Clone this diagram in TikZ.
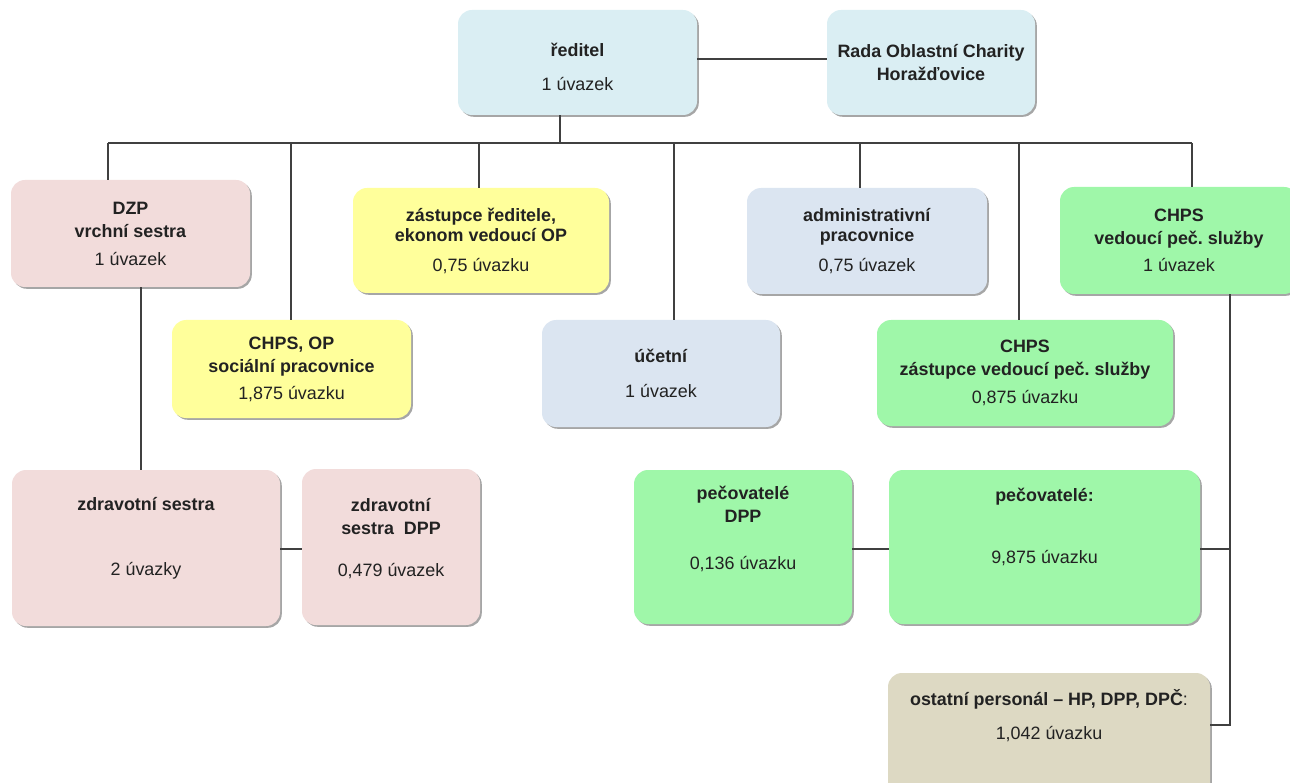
\documentclass[tikz,border=0pt]{standalone}
\usepackage{fontspec}
\setmainfont{Liberation Sans}
\usepackage{xcolor}
\usepackage{tikz}
\usetikzlibrary{shadows}
\definecolor{ink}{HTML}{222222}
\definecolor{wire}{HTML}{404040}
\definecolor{head}{HTML}{DAEEF3}
\definecolor{rose}{HTML}{F2DCDB}
\definecolor{lemon}{HTML}{FFFF9B}
\definecolor{steel}{HTML}{DBE5F1}
\definecolor{mint}{HTML}{9FF7A9}
\definecolor{sand}{HTML}{DDD9C3}
\tikzset{
  box/.style={rounded corners=14pt, align=center, text=ink, inner sep=0pt,
    font=\fontsize{17.9}{23}\selectfont\frenchspacing,
    drop shadow={shadow xshift=1.8pt, shadow yshift=-1.8pt, fill=black, opacity=0.35}},
  dims/.style 2 args={minimum width=#1pt, minimum height=#2pt},
  conn/.style={draw=wire, line width=1.3pt}
}

\begin{document}
\begin{tikzpicture}[x=1pt, y=-1pt]
  \useasboundingbox (0,0) rectangle (1290,783);

  % top
  \node[box, fill=head, dims={239}{105}] (red) at (577.5,62.5) {\mbox{}\\[0pt]\textbf{ředitel}\\[11pt]1 úvazek};
  \node[box, fill=head, dims={208}{105}] (rada) at (931,62.5) {\textbf{Rada Oblastní Charity}\\\textbf{Horažďovice}};

  % second row
  \node[box, fill=rose, dims={239}{107}] (dzp) at (130.5,233.5) {\textbf{DZP}\\\textbf{vrchní sestra}\\[5pt]1 úvazek};
  \node[box, fill=lemon, dims={256}{105}] (zast) at (481,240.5) {\textbf{zástupce ředitele,}\\[-3pt]\textbf{ekonom vedoucí OP}\\[7pt]0,75 úvazku};
  \node[box, fill=steel, dims={240}{106}] (admin) at (867,241) {\textbf{administrativní}\\[-3pt]\textbf{pracovnice}\\[7pt]0,75 úvazek};
  \node[box, fill=mint, dims={238}{107}] (ved) at (1179,240.5) {\textbf{CHPS}\\\textbf{vedoucí peč. služby}\\[4pt]1 úvazek};

  % third row
  \node[box, fill=lemon, dims={239}{98}] (socp) at (291.5,369) {\textbf{CHPS, OP}\\\textbf{sociální pracovnice}\\[4pt]1,875 úvazku};
  \node[box, fill=steel, dims={238}{107}] (ucet) at (661,373.5) {\textbf{účetní}\\[12pt]1 úvazek};
  \node[box, fill=mint, dims={296}{106}] (zved) at (1025,373) {\textbf{CHPS}\\\textbf{zástupce vedoucí peč. služby}\\[5pt]0,875 úvazku};

  % bottom rows
  \node[box, fill=rose, dims={268}{156}] (zdr) at (146,548) {\textbf{zdravotní sestra}\\[42pt]2 úvazky\\[0pt]\mbox{}};
  \node[box, fill=rose, dims={178}{156}] (zdrdpp) at (391,547) {\textbf{zdravotní}\\\textbf{sestra\ \ DPP}\\[19pt]0,479 úvazek\\[-3pt]\mbox{}};
  \node[box, fill=mint, dims={218}{154}] (pdpp) at (743,547) {\textbf{pečovatelé}\\\textbf{DPP}\\[24pt]0,136 úvazku\\[15pt]\mbox{}};
  \node[box, fill=mint, dims={311}{154}] (pec) at (1044.5,547) {\textbf{pečovatelé:}\\[39pt]9,875 úvazku\\[19pt]\mbox{}};
  \node[box, fill=sand, dims={322}{140}] (ost) at (1049,743) {\textbf{ostatní personál – HP, DPP, DPČ}:\\[11pt]1,042 úvazku\\[35pt]\mbox{}};

  % connectors
  \coordinate (bus) at (560,143);
  \coordinate (busl) at (108,143);
  \coordinate (busr) at (1192,143);
  \draw[conn] (red.east |- 0,59) -- (rada.west |- 0,59);
  \draw[conn] (red.south -| bus) -- (bus);
  \draw[conn] (busl) -- (busr);
  \foreach \x/\n in {108/dzp, 291/socp, 479/zast, 674/ucet, 860/admin, 1019/zved, 1192/ved}
    \draw[conn] (\x,143) -- (\x,0 |- \n.north);
  \draw[conn] (141,0 |- dzp.south) -- (141,0 |- zdr.north);
  \draw[conn] (zdr.east |- 0,549) -- (zdrdpp.west |- 0,549);
  \draw[conn] (pdpp.east |- 0,549) -- (pec.west |- 0,549);
  \coordinate (otap) at (1230,725);
  \draw[conn] (1230,0 |- ved.south) -- (otap) -- (otap -| ost.east);
  \draw[conn] (pec.east |- 0,549) -- (otap |- 0,549);
\end{tikzpicture}
\end{document}
